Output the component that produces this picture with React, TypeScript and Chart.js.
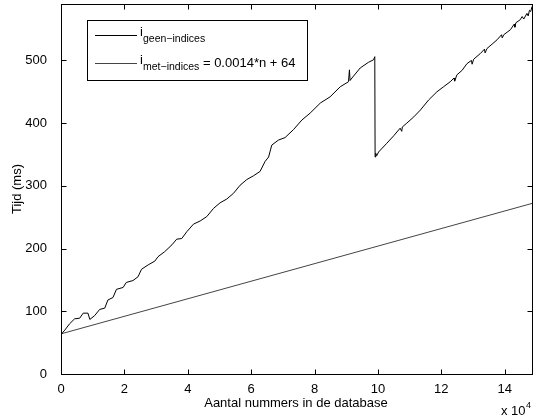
import React, { useEffect, useRef } from "react";
import { Chart, registerables } from "chart.js";

Chart.register(...registerables);

// x in units of 10^4 records
const xGeen = [0, 0.03, 0.12, 0.27, 0.43, 0.59, 0.70, 0.85, 0.91, 1.06, 1.22, 1.38, 1.48, 1.64, 1.75, 1.96, 2.06, 2.27, 2.43, 2.54, 2.75, 2.96, 3.06, 3.27, 3.50, 3.65, 3.81, 3.97, 4.18, 4.39, 4.60, 4.81, 5.02, 5.23, 5.44, 5.65, 5.86, 6.07, 6.28, 6.44, 6.55, 6.65, 6.86, 7.07, 7.34, 7.60, 7.86, 8.18, 8.49, 8.81, 9.07, 9.10, 9.12, 9.18, 9.44, 9.70, 9.86, 9.90, 9.91, 9.93, 9.96, 10.02, 10.28, 10.50, 10.70, 10.75, 10.77, 10.91, 11.13, 11.34, 11.60, 11.86, 12.07, 12.28, 12.40, 12.42, 12.49, 12.65, 12.81, 12.95, 12.97, 13.02, 13.23, 13.36, 13.38, 13.44, 13.60, 13.76, 13.90, 13.92, 13.97, 14.10, 14.18, 14.30, 14.32, 14.35, 14.49, 14.55, 14.60, 14.70, 14.74, 14.78, 14.82, 14.86];
const yGeen = [63, 63, 70, 80, 88, 89, 97, 97, 87, 93, 103, 105, 118, 122, 135, 138, 146, 149, 155, 167, 174, 180, 187, 195, 206, 215, 216, 227, 239, 244, 251, 264, 273, 279, 288, 301, 310, 316, 323, 339, 346, 365, 373, 377, 390, 405, 416, 432, 442, 458, 466, 485, 468, 472, 488, 497, 501, 506, 346, 352, 348, 354, 368, 380, 392, 387, 394, 400, 410, 421, 437, 450, 458, 466, 472, 467, 477, 484, 495, 500, 494, 502, 511, 518, 512, 519, 526, 533, 541, 536, 541, 546, 549, 558, 553, 560, 565, 570, 566, 575, 571, 580, 578, 586];

const xMet = [0, 14.86];
const yMet = [64, 272];

const xTicks = [0, 2, 4, 6, 8, 10, 12, 14];
const yTicks = [0, 100, 200, 300, 400, 500];

const FONT = "'Liberation Sans', Arial, Helvetica, sans-serif";

const overlay = {
  id: "matlabOverlay",
  afterDraw(chart: any) {
    const ctx = chart.ctx as CanvasRenderingContext2D;
    const a = chart.chartArea;
    const xs = chart.scales.x;
    const ys = chart.scales.y;
    ctx.save();
    ctx.strokeStyle = "#000";
    ctx.lineWidth = 1;
    const L = Math.round(a.left) + 0.5;
    const R = Math.round(a.right) + 0.5;
    const T = Math.round(a.top) + 0.5;
    const B = Math.round(a.bottom) + 0.5;
    ctx.strokeRect(L, T, R - L, B - T);
    ctx.beginPath();
    const tl = 5;
    for (const v of xTicks) {
      const px = Math.round(xs.getPixelForValue(v)) + 0.5;
      ctx.moveTo(px, B);
      ctx.lineTo(px, B - tl);
      ctx.moveTo(px, T);
      ctx.lineTo(px, T + tl);
    }
    for (const v of yTicks) {
      const py = Math.round(ys.getPixelForValue(v)) + 0.5;
      ctx.moveTo(L, py);
      ctx.lineTo(L + tl, py);
      ctx.moveTo(R, py);
      ctx.lineTo(R - tl, py);
    }
    ctx.stroke();

    // legend
    const lx = 87.5, ly = 20.5, lw = 220, lh = 60;
    ctx.fillStyle = "#fff";
    ctx.fillRect(lx, ly, lw, lh);
    ctx.strokeRect(lx, ly, lw, lh);
    const ds = chart.data.datasets;
    const rows = [
      { y: 35, color: ds[0].borderColor, sub: "geen\u2212indices", rest: "" },
      { y: 63, color: ds[1].borderColor, sub: "met\u2212indices", rest: " = 0.0014*n + 64" },
    ];
    for (const r of rows) {
      ctx.strokeStyle = r.color;
      ctx.beginPath();
      ctx.moveTo(95, r.y + 0.5);
      ctx.lineTo(137, r.y + 0.5);
      ctx.stroke();
      ctx.fillStyle = "#000";
      ctx.textBaseline = "alphabetic";
      ctx.textAlign = "left";
      ctx.font = `13px ${FONT}`;
      ctx.fillText("i", 140, r.y + 1);
      ctx.font = `10.5px ${FONT}`;
      ctx.fillText(r.sub, 143, r.y + 7);
      const sw = ctx.measureText(r.sub).width;
      if (r.rest) {
        ctx.font = `13px ${FONT}`;
        ctx.fillText(r.rest, 143 + sw, r.y + 4);
      }
    }

    // titles
    ctx.fillStyle = "#000";
    ctx.font = `13px ${FONT}`;
    ctx.textAlign = "center";
    ctx.textBaseline = "middle";
    ctx.fillText("Aantal nummers in de database", 296, 403);
    ctx.textAlign = "left";
    ctx.textBaseline = "alphabetic";
    ctx.fillText("x 10", 501, 415);
    const w10 = ctx.measureText("x 10").width;
    ctx.font = `9px ${FONT}`;
    ctx.fillText("4", 501 + w10 + 0.5, 408);
    ctx.font = `13px ${FONT}`;
    ctx.textBaseline = "middle";
    ctx.save();
    ctx.translate(17, 189);
    ctx.rotate(-Math.PI / 2);
    ctx.textAlign = "center";
    ctx.fillText("Tijd (ms)", 0, 0);
    ctx.restore();
    ctx.restore();
  },
};

export default function App() {
  const ref = useRef<HTMLCanvasElement | null>(null);
  useEffect(() => {
    if (!ref.current) return;
    const chart = new Chart(ref.current, {
      type: "line",
      data: {
        datasets: [
          {
            label: "geen-indices",
            data: xGeen.map((x, i) => ({ x, y: yGeen[i] })),
            borderColor: "#000",
            borderWidth: 1,
            pointRadius: 0,
            tension: 0,
          },
          {
            label: "met-indices",
            data: xMet.map((x, i) => ({ x, y: yMet[i] })),
            borderColor: "#444",
            borderWidth: 1,
            pointRadius: 0,
            tension: 0,
          },
        ],
      },
      options: {
        animation: false,
        responsive: false,
        maintainAspectRatio: false,
        layout: { padding: { top: 4, right: 7, left: 0, bottom: 0 } },
        plugins: { legend: { display: false }, tooltip: { enabled: false } },
        scales: {
          x: {
            type: "linear",
            min: 0,
            max: 14.86,
            grid: { display: false },
            border: { display: false },
            afterBuildTicks: (s: any) => {
              s.ticks = xTicks.map((v) => ({ value: v }));
            },
            afterFit: (s: any) => {
              s.height = 44;
              s.paddingLeft = 0;
              s.paddingRight = 0;
            },
            ticks: {
              color: "#000",
              font: { family: FONT, size: 13 },
              padding: 0,
              maxRotation: 0,
              callback: (v: any) => String(v),
            },
          },
          y: {
            type: "linear",
            min: 0,
            max: 590,
            grid: { display: false },
            border: { display: false },
            afterBuildTicks: (s: any) => {
              s.ticks = yTicks.map((v) => ({ value: v }));
            },
            afterFit: (s: any) => {
              s.width = 61;
              s.paddingTop = 0;
              s.paddingBottom = 0;
            },
            ticks: {
              color: "#000",
              font: { family: FONT, size: 13 },
              padding: 6,
              callback: (v: any) => String(v),
            },
          },
        },
      },
      plugins: [overlay],
    });
    return () => chart.destroy();
  }, []);
  return (
    <div style={{ position: "fixed", left: 0, top: 0, width: 539, height: 418, background: "#fff" }}>
      <canvas ref={ref} width={539} height={418} style={{ display: "block" }} />
    </div>
  );
}
